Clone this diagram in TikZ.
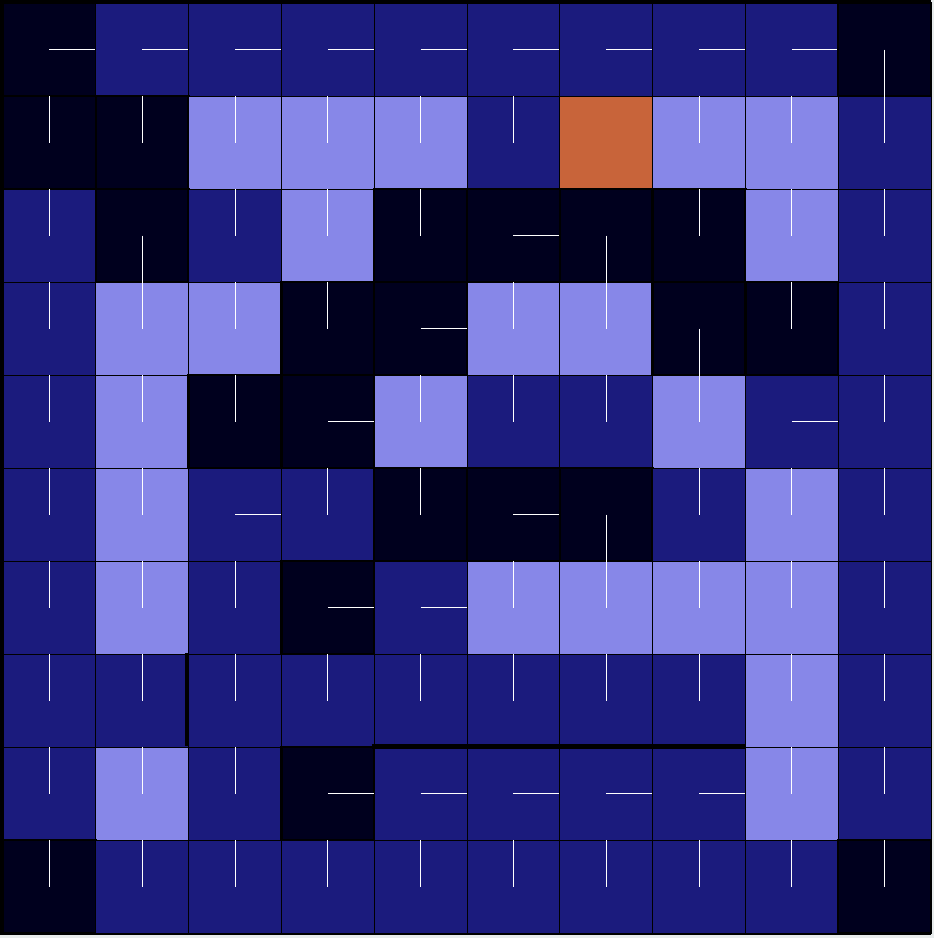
\documentclass[tikz,border=0pt]{standalone}
\usepackage{tikz}
\definecolor{cellD}{HTML}{00001E}
\definecolor{cellB}{HTML}{1B1B7D}
\definecolor{cellL}{HTML}{8787E8}
\definecolor{cellO}{HTML}{C8643A}
\definecolor{paper}{HTML}{E8ECEC}
% white stems from the cell centre
\newcommand{\stemu}[2]{\draw[stem] (#1,#2) -- ++(0,-46.5);}
\newcommand{\stemd}[2]{\draw[stem] (#1,#2) -- ++(0,46.5);}
\newcommand{\stemr}[2]{\draw[stem] (#1,#2) -- ++(46.4,0);}
\newcommand{\stemn}[2]{}
\tikzset{
  stem/.style={white, line width=1pt},
  boxD/.style={draw=black, line width=2.5pt},
  boxB/.style={draw=black, line width=1pt},
  boxL/.style={draw=black, line width=1pt},
  boxO/.style={draw=black, line width=1pt},
  wall/.style={black, line width=5pt}
}
\begin{document}
\begin{tikzpicture}[x=1pt, y=-1pt]
    % Frame
    \useasboundingbox (0,0) rectangle (934,938);
    \fill[paper] (0,0) rectangle (934,938);
    \fill[black] (0,0) rectangle (931,935);

    % Cells
    \foreach \row [count=\r from 0] in {
        {D/r,B/r,B/r,B/r,B/r,B/r,B/r,B/r,B/r,D/d},
        {D/u,D/u,L/u,L/u,L/u,B/u,O/n,L/u,L/u,B/u},
        {B/u,D/d,B/u,L/u,D/u,D/r,D/d,D/u,L/u,B/u},
        {B/u,L/u,L/u,D/u,D/r,L/u,L/u,D/d,D/u,B/u},
        {B/u,L/u,D/u,D/r,L/u,B/u,B/u,L/u,B/r,B/u},
        {B/u,L/u,B/r,B/u,D/u,D/r,D/d,B/u,L/u,B/u},
        {B/u,L/u,B/u,D/r,B/r,L/u,L/u,L/u,L/u,B/u},
        {B/u,B/u,B/u,B/u,B/u,B/u,B/u,B/u,L/u,B/u},
        {B/u,L/u,B/u,D/r,B/r,B/r,B/r,B/r,L/u,B/u},
        {D/u,B/u,B/u,B/u,B/u,B/u,B/u,B/u,B/u,D/u}}
    {
        \foreach \cl/\dir [count=\c from 0] in \row {
            \pgfmathsetmacro{\xa}{3+92.8*\c}
            \pgfmathsetmacro{\ya}{3+93*\r}
            \filldraw[fill=cell\cl, box\cl] (\xa,\ya) rectangle ++(92.8,93);
            \csname stem\dir\endcsname{\xa+46.4}{\ya+46.5}
        }
    }

    % Walls
    \draw[wall] (372,746) -- (745,746);
    \draw[black, line width=3pt] (186,653) -- (186,746);
\end{tikzpicture}
\end{document}
